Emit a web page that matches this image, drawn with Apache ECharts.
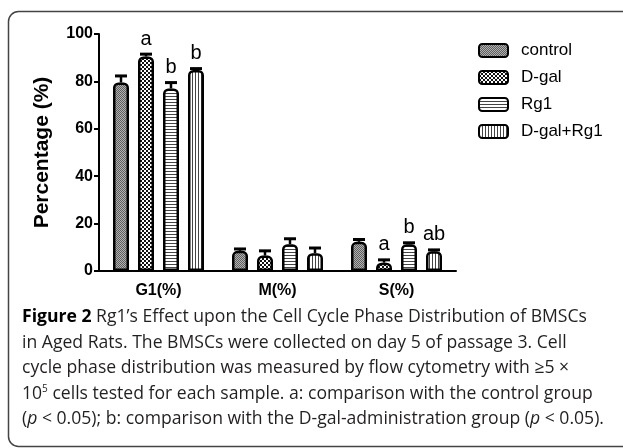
<!DOCTYPE html>
<html><head><meta charset="utf-8">
<script src="https://cdn.jsdelivr.net/npm/echarts@6/dist/echarts.min.js"></script>
<style>html,body{margin:0;padding:0;background:#fff}#c{width:623px;height:448px}</style>
</head><body><div id="c"></div>
<script>
// ---- data ----
const categories = ['G1(%)', 'M(%)', 'S(%)'];
const seriesNames = ['control', 'D-gal', 'Rg1', 'D-gal+Rg1'];
const controlVals = [79.5, 8.5, 12.3];
const controlErr  = [2.8, 0.8, 1.0];
const dgalVals    = [90.5, 6.5, 3.5];
const dgalErr     = [1.0, 2.0, 1.2];
const rg1Vals     = [77.0, 11.3, 11.3];
const rg1Err      = [2.5, 2.3, 0.6];
const comboVals   = [84.8, 7.5, 8.3];
const comboErr    = [0.6, 2.2, 0.6];
const controlSig  = ['', '', ''];
const dgalSig     = ['a', '', 'a'];
const rg1Sig      = ['b', '', 'b'];
const comboSig    = ['b', '', 'ab'];
const yTicks = [0, 20, 40, 60, 80, 100];
const captionLines = [
  '{b|Figure 2} Rg1\u2019s Effect upon the Cell Cycle Phase Distribution of BMSCs',
  'in Aged Rats. The BMSCs were collected on day 5 of passage 3. Cell',
  'cycle phase distribution was measured by flow cytometry with \u22655 \u00d7',
  '10{sup|5} cells tested for each sample. a: comparison with the control group',
  '({i|p} < 0.05); b: comparison with the D-gal-administration group ({i|p} < 0.05).'
];

const allVals = [controlVals, dgalVals, rg1Vals, comboVals];
const allErr = [controlErr, dgalErr, rg1Err, comboErr];
const allSig = [controlSig, dgalSig, rg1Sig, comboSig];

// ---- patterns ----
function pat(w, h, draw) {
  const c = document.createElement('canvas'); c.width = w; c.height = h;
  const g = c.getContext('2d'); draw(g); return c;
}
const patterns = [
  pat(2, 2, g => { g.fillStyle = '#b0b0b0'; g.fillRect(0,0,2,2); g.fillStyle = '#606060'; g.fillRect(0,0,1,1); g.fillRect(1,1,1,1); }),
  pat(4, 4, g => { g.fillStyle = '#fff'; g.fillRect(0,0,4,4); g.fillStyle = '#111'; g.fillRect(0,0,2,2); g.fillRect(2,2,2,2); }),
  pat(1, 3, g => { g.fillStyle = '#fff'; g.fillRect(0,0,1,3); g.fillStyle = '#444'; g.fillRect(0,0,1,1); }),
  pat(3, 1, g => { g.fillStyle = '#fff'; g.fillRect(0,0,3,1); g.fillStyle = '#444'; g.fillRect(0,0,1,1); })
];

const FONT = '"Liberation Sans", Arial, sans-serif';
const CAP_FONT = '"Open Sans", Lato, sans-serif';
const CAP_SIZE = 17.6;
const BAR_W = 16, GAP_PX = 9, BORDER = 2.5;

const chart = echarts.init(document.getElementById('c'), null, {renderer: 'canvas'});

const series = [];
seriesNames.forEach((name, k) => {
  series.push({
    name, type: 'bar', barWidth: BAR_W, barGap: (GAP_PX / BAR_W * 100) + '%',
    data: allVals[k],
    itemStyle: { color: { image: patterns[k], repeat: 'repeat' }, borderColor: '#000', borderWidth: BORDER, borderRadius: [4, 4, 0, 0] },
    emphasis: { disabled: true }, z: 2
  });
});
seriesNames.forEach((name, k) => {
  const off = (k - 1.5) * (BAR_W + GAP_PX);
  series.push({
    name: 'err-' + name, type: 'custom', z: 3,
    data: categories.map((c, i) => [i, allVals[k][i], allErr[k][i]]),
    encode: { x: 0, y: 1 },
    renderItem: (params, api) => {
      const i = api.value(0), v = api.value(1), e = api.value(2);
      const base = api.coord([i, v]);
      const top = api.coord([i, v + e]);
      const x = base[0] + off;
      const ch = [
        { type: 'line', shape: { x1: x, y1: base[1], x2: x, y2: top[1] }, style: { stroke: '#000', lineWidth: 2.5 } },
        { type: 'line', shape: { x1: x - 6, y1: top[1], x2: x + 6, y2: top[1] }, style: { stroke: '#000', lineWidth: 3 } }
      ];
      const s = allSig[k][params.dataIndex];
      if (s) ch.push({ type: 'text', style: { text: s, x: x, y: top[1] - 5, align: 'center', verticalAlign: 'bottom', font: '20px ' + FONT, fill: '#000' } });
      return { type: 'group', children: ch };
    }
  });
});

const captionGraphics = captionLines.map((t, j) => ({
  type: 'text', x: 22, y: 317 + j * 25.5,
  style: {
    text: t, fill: '#231f20', font: CAP_SIZE + 'px ' + CAP_FONT, verticalAlign: 'middle',
    rich: {
      b: { fontWeight: 'bold', fontSize: CAP_SIZE, fontFamily: 'Open Sans', fill: '#000' },
      i: { fontStyle: 'italic', fontSize: CAP_SIZE, fontFamily: 'Open Sans', fill: '#231f20' },
      sup: { fontSize: 10, fontFamily: 'Open Sans', verticalAlign: 'top', padding: [0, 0, 9, 0], fill: '#231f20' }
    }
  }
}));

chart.setOption({
  animation: false,
  backgroundColor: '#fff',
  grid: { left: 99, right: 167, top: 34, bottom: 177 },
  legend: {
    data: seriesNames, orient: 'vertical', left: 478, top: 42, padding: 0,
    itemWidth: 29, itemHeight: 13, itemGap: 10, icon: 'roundRect',
    textStyle: { fontFamily: FONT, fontSize: 17, color: '#000', padding: [0, 0, 0, 8] },
    selectedMode: false
  },
  xAxis: {
    type: 'category', data: categories,
    axisLine: { lineStyle: { color: '#000', width: 2 } },
    axisTick: { alignWithLabel: true, length: 5, lineStyle: { color: '#000', width: 2 } },
    axisLabel: { fontFamily: FONT, fontWeight: 'bold', fontSize: 16, color: '#000', margin: 12 }
  },
  yAxis: {
    type: 'value', min: yTicks[0], max: yTicks[yTicks.length - 1], interval: yTicks[1] - yTicks[0],
    name: 'Percentage (%)', nameLocation: 'middle', nameGap: 46,
    nameTextStyle: { fontFamily: FONT, fontWeight: 'bold', fontSize: 21, color: '#000' },
    axisLine: { show: true, lineStyle: { color: '#000', width: 2 } },
    axisTick: { show: true, length: 5, lineStyle: { color: '#000', width: 2 } },
    axisLabel: { fontFamily: FONT, fontWeight: 'bold', fontSize: 16, color: '#000', margin: 6 },
    splitLine: { show: false }
  },
  series,
  graphic: [
    { type: 'rect', shape: { x: 8.5, y: 11.5, width: 700, height: 435, r: 10 }, style: { fill: 'none', stroke: '#444', lineWidth: 1.5 }, silent: true, z: -1 },
    ...captionGraphics
  ]
});
</script></body></html>
